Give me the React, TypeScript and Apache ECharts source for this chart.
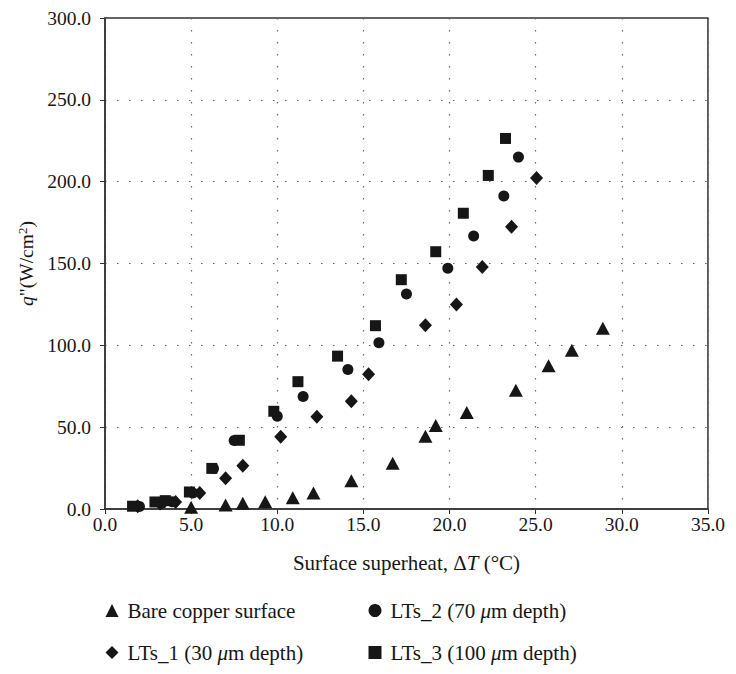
import React, { useEffect, useRef } from "react";
import * as echarts from "echarts";

const bareCopper: [number, number][] = [
  [5.0, 1], [7.0, 2.5], [8.0, 3.5], [9.3, 4.5], [10.9, 6.8], [12.1, 9.8], [14.3, 17.2],
  [16.7, 28], [18.6, 44.5], [19.2, 51], [21.0, 59], [23.85, 72.5], [25.75, 87.5],
  [27.1, 97], [28.9, 110.5],
];
const lts1: [number, number][] = [
  [1.9, 1.7], [3.2, 3.3], [4.1, 4.3], [5.5, 9.7], [7.0, 18.8], [8.0, 26.4], [10.2, 44.2],
  [12.3, 56.3], [14.3, 65.9], [15.3, 82.3], [18.6, 112.2], [20.4, 124.9], [21.9, 147.9],
  [23.6, 172.4], [25.05, 202.3],
];
const lts2: [number, number][] = [
  [2.0, 1.5], [3.3, 3.5], [3.9, 4.5], [5.1, 9.8], [6.3, 24.8], [7.5, 41.8], [10.0, 56.7],
  [11.5, 68.7], [14.1, 85.2], [15.9, 101.6], [17.5, 131.3], [19.9, 147.1], [21.4, 166.8],
  [23.15, 191.3], [24.0, 215],
];
const lts3: [number, number][] = [
  [1.6, 1.7], [2.9, 4.3], [3.5, 5.1], [4.9, 10.4], [6.2, 24.8], [7.8, 42], [9.8, 59.7],
  [11.2, 77.8], [13.5, 93.4], [15.7, 112], [17.2, 140.1], [19.2, 157.2], [20.8, 180.7],
  [22.25, 203.8], [23.25, 226.4],
];

const seriesNames = [
  "Bare copper surface",
  "LTs_1 (30 μm depth)",
  "LTs_2 (70 μm depth)",
  "LTs_3 (100 μm depth)",
];

const FONT = "'Liberation Serif', 'DejaVu Serif', serif";
const INK = "#161616";
const FS = 19.5;
const FL = 21;

export default function App() {
  const ref = useRef<HTMLDivElement>(null);
  useEffect(() => {
    if (!ref.current) return;
    const chart = echarts.init(ref.current, null, { renderer: "svg" });
    const legendFmt = (name: string) => name.replace("μ", "{i|μ}");
    const legendText = {
      fontFamily: FONT,
      fontSize: FL,
      color: INK,
      padding: [0, 0, 0, 4],
      rich: {
        i: { fontFamily: FONT, fontSize: FL, fontStyle: "italic", color: INK },
      },
    };
    const legendCommon = {
      orient: "vertical",
      top: 592,
      height: 66,
      padding: 0,
      itemWidth: 13,
      itemHeight: 13,
      itemGap: 21,
      formatter: legendFmt,
      textStyle: legendText,
    };
    const gridLine = { show: true, lineStyle: { color: "#666", type: [1.5, 10.5], width: 1.2 } };
    chart.setOption({
      animation: false,
      backgroundColor: "#fff",
      textStyle: { fontFamily: FONT },
      grid: {
        left: 97,
        right: 10,
        top: 3,
        height: 498,
        show: true,
        borderColor: "#333",
        borderWidth: 1.5,
        backgroundColor: "transparent",
      },
      legend: [
        { ...legendCommon, data: [seriesNames[0], seriesNames[1]], left: 97.5 },
        { ...legendCommon, data: [seriesNames[2], seriesNames[3]], left: 360.5 },
      ],
      xAxis: {
        type: "value",
        min: 0,
        max: 35,
        interval: 5,
        name: "{n|Surface superheat, Δ}{i|T}{n| (°C)}",
        nameLocation: "middle",
        nameGap: 43,
        nameTextStyle: {
          rich: {
            n: { fontFamily: FONT, fontSize: FL, color: INK },
            i: { fontFamily: FONT, fontSize: FL, color: INK, fontStyle: "italic" },
          },
        },
        axisLine: { show: true, lineStyle: { color: "#333", width: 1.5 } },
        axisTick: { show: true, inside: false, length: 5, lineStyle: { color: "#333" } },
        axisLabel: {
          formatter: (v: number) => v.toFixed(1),
          fontFamily: FONT,
          fontSize: FS,
          color: INK,
          margin: 5,
        },
        splitLine: gridLine,
      },
      yAxis: {
        type: "value",
        min: 0,
        max: 300,
        interval: 50,
        name: "{i|q}{n|\"(W/cm}{s|2}{n|)}",
        nameLocation: "middle",
        nameRotate: 90,
        nameGap: 68,
        nameTextStyle: {
          rich: {
            n: { fontFamily: FONT, fontSize: FS, color: INK },
            i: { fontFamily: FONT, fontSize: FS, color: INK, fontStyle: "italic" },
            s: { fontFamily: FONT, fontSize: 13, color: INK, verticalAlign: "top", padding: [0, 0, 7, 0] },
          },
        },
        axisLine: { show: true, lineStyle: { color: "#333", width: 1.5 } },
        axisTick: { show: true, inside: false, length: 5, lineStyle: { color: "#333" } },
        axisLabel: {
          formatter: (v: number) => v.toFixed(1),
          fontFamily: FONT,
          fontSize: FS,
          color: INK,
          margin: 14,
        },
        splitLine: gridLine,
      },
      series: [
        {
          name: seriesNames[0],
          type: "scatter",
          data: bareCopper,
          symbol: "triangle",
          symbolSize: [14, 13],
          itemStyle: { color: INK, opacity: 1 },
        },
        {
          name: seriesNames[1],
          type: "scatter",
          data: lts1,
          symbol: "diamond",
          symbolSize: [13, 14],
          itemStyle: { color: INK, opacity: 1 },
        },
        {
          name: seriesNames[2],
          type: "scatter",
          data: lts2,
          symbol: "circle",
          symbolSize: 11,
          itemStyle: { color: INK, opacity: 1 },
        },
        {
          name: seriesNames[3],
          type: "scatter",
          data: lts3,
          symbol: "rect",
          symbolSize: 11,
          itemStyle: { color: INK, opacity: 1 },
        },
      ],
    });
    return () => chart.dispose();
  }, []);
  return <div ref={ref} style={{ width: 720, height: 658 }} />;
}
